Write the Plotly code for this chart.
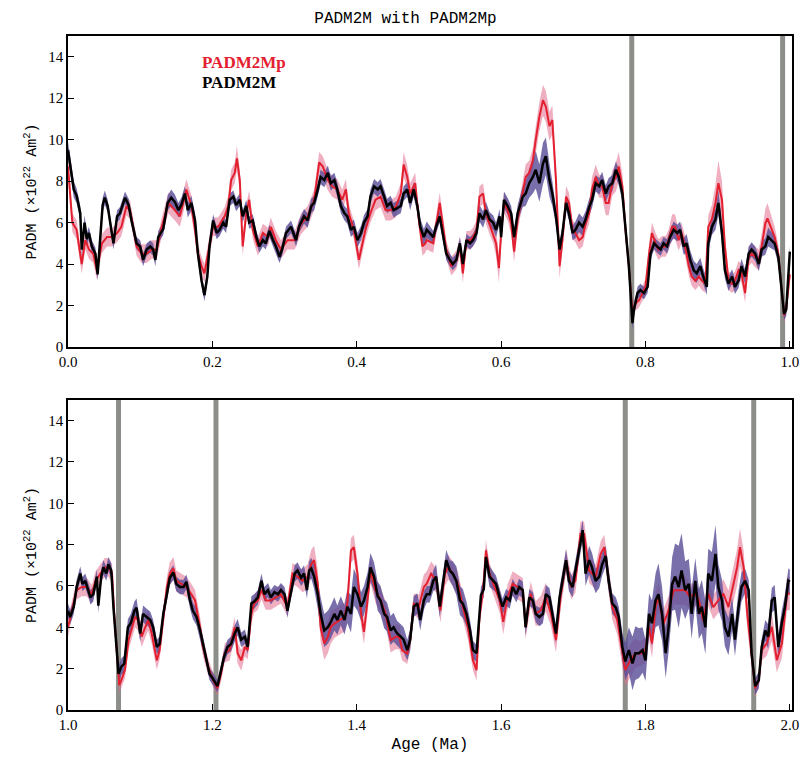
import numpy as np
import plotly.graph_objects as go
from plotly.subplots import make_subplots

# ---------------- DATA ----------------
# Panel 1 (0-1 Ma) PADM2M
ages_m_top = [0.000,0.003,0.008,0.012,0.017,0.019,0.023,0.026,0.029,0.033,
0.038,0.041,0.045,0.048,0.051,0.055,0.060,0.063,0.068,0.072,
0.079,0.084,0.088,0.095,0.100,0.104,0.109,0.114,0.118,0.121,
0.125,0.132,0.138,0.143,0.148,0.153,0.157,0.162,0.166,0.171,
0.176,0.180,0.185,0.189,0.193,0.196,0.201,0.206,0.210,0.215,
0.219,0.224,0.229,0.233,0.238,0.242,0.247,0.251,0.256,0.261,
0.265,0.270,0.274,0.279,0.284,0.288,0.293,0.297,0.302,0.309,
0.316,0.320,0.327,0.332,0.337,0.341,0.346,0.350,0.355,0.360,
0.364,0.369,0.373,0.378,0.383,0.387,0.392,0.396,0.401,0.406,
0.410,0.415,0.419,0.424,0.429,0.433,0.438,0.442,0.447,0.451,
0.456,0.461,0.465,0.470,0.474,0.479,0.484,0.488,0.493,0.497,
0.501,0.506,0.510,0.515,0.520,0.524,0.529,0.533,0.538,0.543,
0.547,0.552,0.557,0.561,0.566,0.570,0.575,0.579,0.584,0.589,
0.593,0.598,0.600,0.604,0.609,0.614,0.618,0.623,0.630,0.634,
0.639,0.644,0.648,0.653,0.658,0.662,0.667,0.671,0.676,0.681,
0.685,0.690,0.694,0.699,0.703,0.708,0.713,0.717,0.722,0.726,
0.731,0.736,0.740,0.745,0.749,0.754,0.759,0.763,0.768,0.772,
0.777,0.782,0.784,0.789,0.793,0.798,0.803,0.807,0.812,0.816,
0.821,0.825,0.830,0.834,0.839,0.844,0.848,0.853,0.857,0.862,
0.867,0.871,0.876,0.880,0.885,0.887,0.892,0.897,0.901,0.906,
0.910,0.915,0.920,0.924,0.929,0.933,0.938,0.943,0.947,0.952,
0.957,0.961,0.966,0.970,0.975,0.979,0.984,0.989,0.992,0.995,
0.998,1.000]
padm2m_top = [9.5,8.7,7.6,7.3,6.45,4.7,6.0,5.2,5.5,4.85,
4.5,3.5,5.2,6.85,7.2,6.8,5.65,5.0,6.3,6.45,
7.2,6.85,6.1,5.0,4.85,4.2,4.7,4.85,4.7,4.2,
5.3,5.7,6.95,7.2,7.0,6.6,6.85,7.4,6.6,6.95,
6.1,4.5,3.2,2.5,3.4,4.85,6.1,5.5,5.65,6.0,
5.8,7.1,7.25,6.85,7.1,6.3,6.8,6.0,6.1,5.3,
4.85,5.15,5.0,5.6,5.15,4.85,4.35,4.75,5.5,5.8,
5.15,5.8,6.3,6.1,6.8,6.95,7.6,8.2,8.05,8.4,
7.9,8.05,7.6,6.8,6.45,6.3,5.65,5.8,5.15,5.5,
6.0,6.3,7.25,7.75,7.6,7.75,7.25,6.8,6.95,6.6,
6.7,6.8,7.4,7.6,6.95,7.6,6.8,5.8,5.3,5.65,
5.5,5.3,5.8,6.3,5.3,4.5,4.2,4.0,4.2,5.0,
4.0,5.15,5.0,5.15,5.5,6.45,6.15,6.6,6.15,6.0,
5.65,6.3,5.3,7.1,6.8,6.45,5.3,6.45,7.25,7.4,
7.9,8.2,8.55,7.9,8.85,9.2,8.05,7.4,6.3,4.7,
5.5,6.95,6.45,5.5,5.65,6.0,5.8,6.15,6.75,7.1,
7.9,7.75,8.05,7.4,7.75,7.9,8.55,8.2,7.4,5.95,
3.9,1.15,1.8,2.6,2.75,2.6,2.9,4.5,5.0,4.85,
4.7,5.0,4.85,5.3,5.65,5.5,5.65,4.85,5.0,4.2,
3.7,3.55,3.9,3.4,2.9,5.0,5.8,6.15,6.95,5.5,
3.7,3.05,3.4,2.9,3.2,3.9,3.4,4.5,4.7,4.5,
4.0,4.7,4.85,5.3,5.15,5.0,4.35,2.6,1.6,1.8,
3.5,4.6]
padm2m_err_top = [0.4,0.4,0.4,0.35,0.35,0.35,0.35,0.3,0.3,0.3,
0.3,0.3,0.3,0.35,0.35,0.3,0.3,0.3,0.3,0.3,
0.3,0.3,0.3,0.3,0.3,0.3,0.3,0.3,0.3,0.3,
0.3,0.3,0.35,0.4,0.35,0.35,0.35,0.35,0.35,0.35,
0.35,0.3,0.3,0.3,0.3,0.3,0.3,0.3,0.3,0.3,
0.3,0.3,0.3,0.3,0.3,0.3,0.3,0.3,0.3,0.3,
0.3,0.3,0.3,0.3,0.3,0.3,0.3,0.3,0.3,0.3,
0.3,0.3,0.35,0.35,0.35,0.35,0.35,0.35,0.35,0.35,
0.35,0.35,0.35,0.35,0.35,0.35,0.35,0.35,0.35,0.35,
0.35,0.35,0.35,0.35,0.35,0.35,0.35,0.35,0.35,0.35,
0.35,0.35,0.35,0.35,0.35,0.35,0.35,0.4,0.4,0.4,
0.35,0.3,0.3,0.3,0.3,0.3,0.3,0.3,0.3,0.3,
0.3,0.3,0.3,0.3,0.35,0.4,0.4,0.4,0.35,0.35,
0.35,0.35,0.35,0.4,0.4,0.35,0.35,0.4,0.5,0.6,
0.7,0.8,0.9,0.9,1.0,0.9,0.8,0.6,0.4,0.35,
0.35,0.35,0.35,0.35,0.4,0.45,0.45,0.4,0.4,0.4,
0.4,0.4,0.4,0.4,0.4,0.4,0.4,0.4,0.4,0.35,
0.3,0.3,0.3,0.3,0.3,0.3,0.3,0.3,0.3,0.3,
0.3,0.3,0.35,0.35,0.4,0.4,0.4,0.4,0.45,0.45,
0.45,0.45,0.4,0.4,0.4,0.4,0.4,0.5,0.6,0.5,
0.4,0.35,0.35,0.35,0.35,0.35,0.35,0.35,0.35,0.35,
0.35,0.35,0.4,0.45,0.4,0.35,0.35,0.3,0.3,0.3,
0.3,0.3]

# Panel 1 (0-1 Ma) PADM2Mp
ages_p_top = [0.000,0.006,0.012,0.019,0.024,0.029,0.035,0.040,0.047,0.054,
0.061,0.068,0.074,0.081,0.086,0.091,0.095,0.102,0.109,0.116,
0.123,0.130,0.139,0.148,0.155,0.164,0.171,0.176,0.180,0.185,
0.189,0.194,0.201,0.208,0.217,0.222,0.226,0.231,0.234,0.238,
0.242,0.247,0.251,0.256,0.263,0.270,0.277,0.281,0.288,0.295,
0.304,0.314,0.323,0.332,0.341,0.348,0.353,0.360,0.366,0.373,
0.380,0.385,0.389,0.396,0.403,0.408,0.412,0.419,0.426,0.433,
0.440,0.447,0.454,0.461,0.465,0.470,0.474,0.481,0.486,0.491,
0.495,0.497,0.506,0.515,0.520,0.524,0.531,0.538,0.543,0.547,
0.552,0.557,0.561,0.566,0.570,0.575,0.579,0.584,0.589,0.593,
0.597,0.600,0.604,0.609,0.614,0.618,0.623,0.630,0.634,0.639,
0.644,0.648,0.653,0.658,0.662,0.667,0.671,0.676,0.681,0.685,
0.690,0.694,0.699,0.703,0.708,0.713,0.717,0.722,0.726,0.731,
0.736,0.740,0.745,0.749,0.754,0.759,0.763,0.768,0.772,0.777,
0.782,0.786,0.791,0.796,0.800,0.805,0.809,0.814,0.818,0.823,
0.828,0.832,0.837,0.841,0.846,0.850,0.855,0.860,0.864,0.869,
0.874,0.878,0.883,0.887,0.892,0.897,0.901,0.906,0.910,0.915,
0.920,0.924,0.929,0.933,0.938,0.943,0.947,0.952,0.957,0.961,
0.966,0.969,0.975,0.979,0.984,0.989,0.992,0.995,1.000]
padm2mp_top = [8.7,6.0,5.65,4.0,5.15,4.7,4.5,3.7,5.0,5.3,
5.3,5.5,5.8,6.8,6.6,5.65,4.85,4.5,4.5,4.7,
4.7,5.8,6.95,6.6,6.3,7.6,6.8,5.65,4.5,3.9,
3.55,4.5,5.8,5.8,6.3,6.8,8.05,8.4,9.1,8.05,
4.85,6.45,7.1,5.65,4.85,5.5,5.3,5.8,5.15,4.7,
5.15,5.15,5.95,6.3,7.1,8.9,8.7,8.05,7.75,7.6,
7.1,7.6,6.45,5.65,4.2,5.0,5.65,6.45,7.1,7.25,
6.6,6.6,6.75,7.4,8.8,8.2,7.4,7.9,6.15,4.85,
5.0,5.15,5.0,6.95,5.65,4.7,3.9,4.2,4.85,3.55,
5.15,5.15,5.3,5.65,7.25,7.4,6.45,5.95,5.5,5.0,
3.8,5.5,6.95,6.6,5.95,4.6,6.15,7.4,8.2,8.4,
9.0,10.0,11.1,11.9,11.6,10.65,10.95,8.05,3.9,5.15,
7.25,6.95,5.65,5.5,5.15,5.3,5.95,6.45,7.6,8.2,
7.75,7.75,6.95,6.95,7.9,8.2,8.7,7.75,5.8,3.9,
1.6,2.1,2.25,2.6,2.9,4.5,5.5,5.0,4.7,4.85,
4.85,5.15,5.8,5.8,5.15,5.5,4.85,3.9,3.4,3.2,
3.4,3.2,3.05,5.8,6.15,6.95,7.9,7.1,4.85,3.2,
3.05,3.2,3.7,3.55,2.6,4.35,4.5,4.35,4.2,4.85,
5.95,6.2,5.65,5.3,4.5,2.75,1.53,1.9,3.5]
padm2mp_err_top = [0.5,0.45,0.45,0.45,0.45,0.45,0.45,0.45,0.45,0.45,
0.45,0.45,0.45,0.45,0.45,0.45,0.45,0.45,0.45,0.45,
0.45,0.45,0.5,0.5,0.5,0.5,0.5,0.45,0.45,0.45,
0.45,0.45,0.45,0.45,0.45,0.5,0.5,0.5,0.6,0.5,
0.45,0.45,0.45,0.45,0.45,0.45,0.45,0.45,0.45,0.45,
0.45,0.45,0.5,0.5,0.5,0.5,0.5,0.5,0.5,0.5,
0.5,0.5,0.45,0.45,0.45,0.45,0.45,0.45,0.5,0.5,
0.5,0.5,0.5,0.5,0.6,0.55,0.5,0.5,0.45,0.45,
0.45,0.45,0.45,0.5,0.45,0.45,0.45,0.45,0.45,0.45,
0.45,0.45,0.45,0.45,0.5,0.5,0.5,0.5,0.5,0.6,
0.7,0.5,0.5,0.5,0.5,0.5,0.5,0.55,0.6,0.6,
0.6,0.65,0.7,0.75,0.75,0.7,0.7,0.7,0.6,0.5,
0.5,0.5,0.45,0.45,0.45,0.45,0.5,0.5,0.6,0.6,
0.55,0.55,0.6,0.6,0.6,0.7,0.7,0.6,0.5,0.4,
0.35,0.35,0.35,0.35,0.4,0.45,0.5,0.5,0.5,0.5,
0.5,0.5,0.6,0.6,0.5,0.5,0.5,0.45,0.45,0.45,
0.45,0.45,0.45,0.55,0.7,0.9,1.1,0.9,0.6,0.45,
0.45,0.45,0.45,0.45,0.45,0.45,0.45,0.5,0.5,0.6,
0.7,0.75,0.6,0.5,0.45,0.4,0.35,0.35,0.4]

# Panel 2 (1-2 Ma) PADM2M
ages_m_bot = [1.000,1.003,1.008,1.012,1.017,1.020,1.024,1.028,1.031,1.035,
1.040,1.042,1.046,1.049,1.053,1.056,1.060,1.063,1.066,1.070,
1.074,1.078,1.083,1.087,1.092,1.095,1.100,1.104,1.109,1.114,
1.118,1.123,1.127,1.132,1.137,1.141,1.146,1.150,1.155,1.160,
1.164,1.169,1.173,1.178,1.183,1.187,1.192,1.196,1.201,1.207,
1.211,1.216,1.221,1.226,1.231,1.235,1.240,1.245,1.249,1.254,
1.258,1.263,1.268,1.272,1.277,1.281,1.286,1.291,1.295,1.300,
1.304,1.309,1.314,1.318,1.323,1.327,1.331,1.334,1.337,1.341,
1.346,1.350,1.355,1.360,1.364,1.369,1.373,1.378,1.383,1.387,
1.392,1.396,1.401,1.406,1.410,1.415,1.419,1.424,1.429,1.433,
1.438,1.442,1.447,1.451,1.456,1.461,1.465,1.470,1.474,1.479,
1.484,1.488,1.493,1.497,1.501,1.506,1.510,1.515,1.520,1.524,
1.529,1.533,1.538,1.543,1.547,1.552,1.557,1.561,1.566,1.569,
1.572,1.576,1.579,1.584,1.589,1.593,1.598,1.602,1.607,1.612,
1.616,1.621,1.625,1.630,1.634,1.639,1.644,1.648,1.653,1.658,
1.662,1.667,1.671,1.676,1.681,1.685,1.690,1.694,1.699,1.703,
1.708,1.713,1.717,1.722,1.726,1.731,1.736,1.740,1.745,1.749,
1.754,1.759,1.763,1.768,1.772,1.777,1.782,1.786,1.791,1.796,
1.800,1.805,1.809,1.814,1.818,1.823,1.828,1.832,1.837,1.841,
1.846,1.850,1.855,1.860,1.864,1.869,1.874,1.878,1.883,1.887,
1.892,1.897,1.901,1.906,1.910,1.915,1.920,1.924,1.929,1.933,
1.938,1.943,1.947,1.952,1.957,1.961,1.966,1.970,1.975,1.979,
1.984,1.989,1.993,1.998,2.000]
padm2m_bot = [4.8,4.5,5.0,5.95,6.6,6.1,6.25,5.85,5.45,5.6,
6.45,5.05,6.45,6.9,6.6,7.05,6.75,4.95,3.55,1.75,
2.1,2.25,4.0,4.2,4.8,4.95,3.7,4.65,4.5,4.35,
4.0,3.05,3.2,4.65,5.6,6.4,6.65,6.1,5.95,5.95,
6.2,5.3,4.8,4.5,3.85,3.2,2.4,1.75,1.5,1.15,
1.75,2.55,3.05,3.2,3.7,4.0,3.4,3.55,3.05,5.15,
5.25,5.45,6.25,5.6,5.8,5.45,5.7,5.6,5.8,5.6,
4.8,5.8,6.6,6.75,6.4,6.6,5.8,6.75,6.85,6.45,
5.6,4.65,3.85,4.0,4.25,4.65,4.35,4.8,4.35,5.0,
4.65,5.95,5.6,5.0,5.3,5.95,6.9,6.45,5.5,5.3,
4.65,4.5,3.85,4.0,3.7,3.55,3.4,2.9,3.4,5.0,
5.15,4.35,5.3,5.6,5.6,6.25,6.45,5.0,6.25,7.25,
6.75,6.6,6.25,5.3,5.15,4.65,3.85,2.9,2.75,4.0,
5.55,5.85,7.4,6.45,6.25,6.1,5.45,5.0,5.45,5.3,
5.95,5.6,5.95,5.8,4.0,5.45,5.3,4.65,4.5,4.65,
5.6,5.45,4.65,3.7,5.45,6.25,7.25,6.25,5.95,6.75,
7.7,8.7,6.6,7.25,6.9,6.25,6.45,7.05,7.45,6.25,
5.15,4.95,4.5,3.05,2.35,2.9,2.25,2.75,2.75,2.9,
2.4,4.65,4.2,5.3,5.6,4.65,2.75,4.0,6.1,6.45,
5.95,6.75,5.8,6.1,4.65,6.25,4.65,5.0,4.0,6.6,
6.25,7.55,5.95,5.3,4.0,3.55,4.65,3.4,5.0,5.95,
6.25,5.8,2.75,1.15,1.45,3.05,3.85,3.55,5.3,5.45,
3.05,4.25,4.95,6.25,6.2]
padm2m_err_bot = [0.35,0.35,0.35,0.35,0.35,0.35,0.35,0.35,0.35,0.35,
0.35,0.35,0.35,0.35,0.35,0.35,0.35,0.35,0.4,0.4,
0.4,0.4,0.4,0.45,0.45,0.45,0.4,0.4,0.4,0.4,
0.35,0.35,0.35,0.35,0.35,0.35,0.35,0.35,0.35,0.35,
0.35,0.4,0.4,0.4,0.35,0.35,0.3,0.3,0.3,0.3,
0.3,0.3,0.35,0.35,0.4,0.4,0.35,0.35,0.35,0.35,
0.35,0.35,0.35,0.35,0.35,0.35,0.35,0.35,0.35,0.35,
0.35,0.35,0.4,0.4,0.4,0.4,0.4,0.45,0.5,0.6,
0.7,0.8,0.8,0.8,0.8,0.8,0.7,0.7,0.7,0.8,
0.9,0.9,0.8,0.7,0.7,0.7,0.7,0.7,0.7,0.7,
0.7,0.7,0.7,0.7,0.6,0.6,0.6,0.5,0.5,0.5,
0.5,0.5,0.45,0.4,0.4,0.5,0.6,0.5,0.45,0.5,
0.5,0.6,0.7,0.7,0.7,0.6,0.5,0.45,0.4,0.4,
0.4,0.4,0.45,0.5,0.45,0.4,0.4,0.4,0.4,0.4,
0.4,0.4,0.4,0.4,0.4,0.4,0.4,0.4,0.45,0.45,
0.45,0.45,0.45,0.45,0.45,0.5,0.5,0.5,0.5,0.5,
0.5,0.5,0.6,0.7,0.7,0.6,0.55,0.55,0.5,0.5,
0.5,0.5,0.5,0.7,0.9,1.1,1.3,1.3,1.2,1.1,
1.0,1.0,1.1,1.3,1.5,1.3,1.2,1.2,1.3,1.6,
2.0,1.8,1.4,1.2,1.2,1.1,1.2,1.3,1.3,1.2,
1.4,1.4,1.1,1.0,0.9,0.9,0.8,0.8,0.8,0.7,
0.6,0.5,0.5,0.4,0.4,0.4,0.5,0.6,0.6,0.6,
0.6,0.6,0.6,0.6,0.6]

# Panel 2 (1-2 Ma) PADM2Mp
ages_p_bot = [1.000,1.006,1.012,1.019,1.026,1.033,1.038,1.045,1.051,1.056,
1.061,1.064,1.068,1.071,1.074,1.079,1.084,1.088,1.093,1.097,
1.102,1.107,1.111,1.116,1.123,1.127,1.132,1.137,1.141,1.146,
1.150,1.157,1.164,1.171,1.176,1.183,1.187,1.194,1.201,1.207,
1.212,1.217,1.224,1.231,1.235,1.240,1.245,1.249,1.254,1.258,
1.263,1.268,1.274,1.281,1.288,1.295,1.304,1.311,1.318,1.325,
1.332,1.337,1.341,1.346,1.350,1.355,1.360,1.364,1.369,1.376,
1.383,1.387,1.392,1.396,1.401,1.406,1.410,1.415,1.419,1.426,
1.433,1.440,1.447,1.454,1.459,1.463,1.470,1.474,1.479,1.486,
1.493,1.497,1.503,1.510,1.516,1.522,1.527,1.533,1.540,1.547,
1.554,1.561,1.566,1.570,1.575,1.579,1.584,1.591,1.598,1.603,
1.609,1.616,1.623,1.630,1.634,1.641,1.648,1.655,1.662,1.669,
1.676,1.683,1.690,1.697,1.703,1.710,1.715,1.722,1.731,1.738,
1.743,1.747,1.754,1.761,1.768,1.772,1.779,1.786,1.793,1.800,
1.805,1.809,1.814,1.818,1.825,1.832,1.839,1.846,1.855,1.862,
1.869,1.874,1.880,1.887,1.894,1.901,1.908,1.915,1.920,1.927,
1.931,1.936,1.941,1.947,1.952,1.957,1.961,1.968,1.975,1.982,
1.989,1.996,2.000]
padm2mp_bot = [4.0,4.98,5.8,5.95,5.95,5.6,6.25,6.6,6.9,6.9,
6.6,4.65,2.75,1.2,1.45,1.95,3.4,3.85,4.5,4.35,
3.55,4.0,4.35,3.7,2.4,2.9,4.5,5.95,6.6,6.85,
6.25,6.1,5.95,5.6,5.3,4.0,3.05,2.1,1.45,1.05,
1.77,2.75,2.9,4.0,2.75,2.4,3.05,2.9,4.65,5.15,
5.3,5.8,5.3,5.3,5.45,5.6,4.98,6.6,6.45,6.25,
6.45,7.05,7.25,6.1,4.0,3.22,3.54,4.02,4.18,4.34,
4.5,5.14,7.72,7.88,6.59,4.66,3.78,5.31,6.75,5.79,
5.31,4.66,3.38,3.54,3.54,2.89,2.73,3.38,5.14,4.98,
5.95,6.11,6.59,6.27,4.82,6.59,6.91,6.59,6.11,4.98,
4.02,2.41,1.93,4.5,5.79,7.72,6.59,5.95,5.31,4.26,
5.47,6.11,5.95,5.79,4.02,5.63,4.66,4.82,5.47,4.66,
3.38,5.63,7.23,5.95,6.27,8.52,8.52,6.75,6.43,7.56,
7.88,6.91,4.98,4.34,2.89,1.93,2.41,2.73,2.73,2.89,
4.02,3.22,4.98,5.47,4.18,4.82,5.79,5.79,5.79,5.47,
5.63,5.31,4.34,5.63,4.98,5.31,5.63,4.98,5.79,6.91,
7.88,6.91,4.66,2.73,1.05,1.45,2.89,3.22,4.02,2.41,
3.22,5.63,5.63]
padm2mp_err_bot = [0.45,0.45,0.45,0.45,0.45,0.45,0.45,0.45,0.45,0.45,
0.45,0.45,0.45,0.4,0.4,0.4,0.45,0.45,0.5,0.5,
0.5,0.5,0.5,0.5,0.45,0.45,0.5,0.5,0.55,0.55,
0.5,0.5,0.5,0.5,0.5,0.5,0.45,0.4,0.35,0.35,
0.4,0.45,0.5,0.5,0.5,0.5,0.45,0.45,0.45,0.45,
0.45,0.45,0.45,0.45,0.45,0.45,0.45,0.5,0.5,0.55,
0.6,0.7,0.7,0.7,0.7,0.8,0.8,0.8,0.7,0.7,
0.7,0.7,0.6,0.6,0.6,0.6,0.6,0.6,0.6,0.6,
0.6,0.6,0.6,0.6,0.6,0.5,0.5,0.5,0.5,0.6,
0.6,0.6,0.6,0.6,0.6,0.6,0.6,0.6,0.6,0.6,
0.6,0.5,0.5,0.5,0.5,0.5,0.5,0.5,0.6,0.6,
0.6,0.6,0.6,0.6,0.6,0.6,0.6,0.7,0.7,0.6,
0.6,0.6,0.6,0.6,0.6,0.6,0.6,0.6,0.6,0.6,
0.6,0.6,0.6,0.7,0.8,0.8,0.8,0.7,0.6,0.6,
0.6,0.7,0.7,0.7,0.7,0.7,0.7,0.7,0.7,0.6,
0.6,0.6,0.6,0.6,0.6,0.6,0.7,0.8,0.9,0.9,
0.9,0.8,0.7,0.5,0.4,0.4,0.5,0.6,0.7,0.6,
0.7,0.8,0.8]

# Polarity transitions (gray bars), Ma
reversal_ages_top = [0.781, 0.990]
reversal_ages_bot = [1.070, 1.205, 1.772, 1.950]

x_ticks_top = [0.0, 0.2, 0.4, 0.6, 0.8, 1.0]
x_ticks_bot = [1.0, 1.2, 1.4, 1.6, 1.8, 2.0]
y_ticks = [0, 2, 4, 6, 8, 10, 12, 14]

# ---------------- STYLE ----------------
RED = "#e3202f"
PINK = "rgba(226,110,140,0.55)"
PURPLE = "rgba(88,76,150,0.80)"
GRAY = "#8c8e8a"
FONT = "Liberation Serif"
MONO = "Liberation Mono"

fig = make_subplots(rows=2, cols=1)


def clip(a, b, c):
    n = min(len(a), len(b), len(c))
    return np.array(a[:n], float), np.array(b[:n], float), np.array(c[:n], float)


def band(x, v, e, color, row):
    fig.add_trace(go.Scatter(
        x=np.concatenate([x, x[::-1]]),
        y=np.concatenate([v + e, (v - e)[::-1]]),
        fill="toself", fillcolor=color, line=dict(width=0),
        mode="lines", hoverinfo="skip", showlegend=False), row=row, col=1)


panels = [
    (ages_m_top, padm2m_top, padm2m_err_top, ages_p_top, padm2mp_top, padm2mp_err_top, 1),
    (ages_m_bot, padm2m_bot, padm2m_err_bot, ages_p_bot, padm2mp_bot, padm2mp_err_bot, 2),
]
for am, vm, em, ap, vp, ep, row in panels:
    am, vm, em = clip(am, vm, em)
    ap, vp, ep = clip(ap, vp, ep)
    band(ap, vp, ep, PINK, row)
    band(am, vm, em, PURPLE, row)
    fig.add_trace(go.Scatter(x=ap, y=vp, mode="lines", line=dict(color=RED, width=2),
                             name="PADM2Mp", showlegend=False), row=row, col=1)
    fig.add_trace(go.Scatter(x=am, y=vm, mode="lines", line=dict(color="black", width=2.5),
                             name="PADM2M", showlegend=False), row=row, col=1)

for a in reversal_ages_top:
    fig.add_shape(type="line", x0=a, x1=a, y0=0, y1=1, xref="x", yref="y domain",
                  line=dict(color=GRAY, width=5), layer="below")
for a in reversal_ages_bot:
    fig.add_shape(type="line", x0=a, x1=a, y0=0, y1=1, xref="x2", yref="y2 domain",
                  line=dict(color=GRAY, width=5), layer="below")

axis_common = dict(showline=True, linecolor="black", linewidth=1.5, mirror=True,
                   ticks="inside", ticklen=6, tickwidth=1.2, tickcolor="black",
                   showgrid=False, zeroline=False,
                   tickfont=dict(family=FONT, size=15, color="black"))

fig.update_xaxes(**axis_common)
fig.update_yaxes(**axis_common)
fig.update_xaxes(range=[0, 1.003], tickvals=x_ticks_top,
                 ticktext=[f"{v:.1f}" for v in x_ticks_top], row=1, col=1)
fig.update_xaxes(range=[1.0, 2.003], tickvals=x_ticks_bot,
                 ticktext=[f"{v:.1f}" for v in x_ticks_bot], row=2, col=1,
                 title=dict(text="Age (Ma)", font=dict(family=MONO, size=16, color="black"), standoff=6))
ytitle = dict(text="PADM (×10<sup>22</sup> Am<sup>2</sup>)",
              font=dict(family=MONO, size=15, color="black"), standoff=8)
fig.update_yaxes(range=[0, 15], tickvals=y_ticks, title=ytitle, row=1, col=1)
fig.update_yaxes(range=[0, 15], tickvals=y_ticks, title=ytitle, row=2, col=1)

fig.update_layout(
    width=811, height=762,
    margin=dict(l=68, r=16, t=36, b=52),
    paper_bgcolor="white", plot_bgcolor="white",
    xaxis=dict(domain=[0, 1]), xaxis2=dict(domain=[0, 1]),
    yaxis=dict(domain=[0.5386, 1.0]), yaxis2=dict(domain=[0.0, 0.46]),
    showlegend=False,
    title=dict(text="PADM2M with PADM2Mp", x=0.5, xanchor="center", y=0.985, yanchor="top",
               font=dict(family=MONO, size=16, color="black")),
)

fig.add_annotation(x=0.183, y=13.7, xref="x", yref="y", text="<b>PADM2Mp</b>", showarrow=False,
                   xanchor="left", font=dict(family=FONT, size=17, color=RED))
fig.add_annotation(x=0.183, y=12.75, xref="x", yref="y", text="<b>PADM2M</b>", showarrow=False,
                   xanchor="left", font=dict(family=FONT, size=17, color="black"))

fig.write_html("out.html")
